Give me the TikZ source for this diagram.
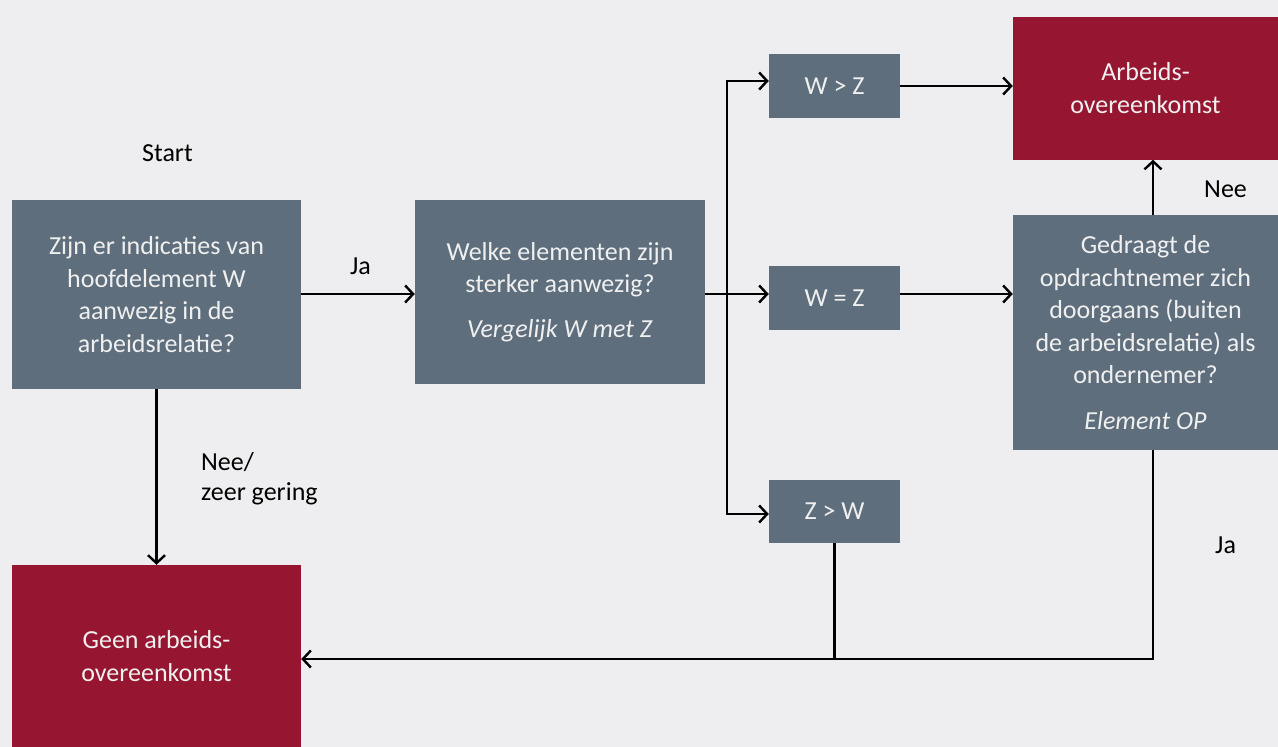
\documentclass[tikz,border=0pt]{standalone}
\usepackage{fontspec}
\setmainfont{Carlito}
\usetikzlibrary{arrows.meta}
\definecolor{bgc}{HTML}{EEEEF0}
\definecolor{slate}{HTML}{5E6E7C}
\definecolor{wine}{HTML}{961631}
\definecolor{boxtext}{HTML}{F0F0F0}
\tikzset{
  base/.style={rectangle, inner sep=0pt, align=center, text=boxtext,
    font=\fontsize{26}{32.5}\selectfont},
  grey/.style={base, fill=slate},
  red/.style={base, fill=wine},
  lbl/.style={font=\fontsize{26}{30}\selectfont, text=black, inner sep=0pt, align=left},
  arr/.style={line width=2.4pt, -{Straight Barb[length=8pt,width=17pt,line width=2.4pt]}},
  ln/.style={line width=2.4pt},
}
\begin{document}
\begin{tikzpicture}[x=1pt,y=-1pt]
\fill[bgc] (0,0) rectangle (1278,747);
\useasboundingbox (0,0) rectangle (1278,747);

% question boxes
\node[grey, minimum width=289pt, minimum height=189pt] (q1) at (156.5,294.5)
  {Zijn er indicaties van\\hoofdelement W\\aanwezig in de\\arbeidsrelatie?};
\node[grey, minimum width=290pt, minimum height=184pt] (q2) at (560,292)
  {Welke elementen zijn\\sterker aanwezig?\\[12pt]\textit{Vergelijk W met Z}};
\node[grey, minimum width=131pt, minimum height=64pt] (wgz) at (834.5,86) {W > Z};
\node[grey, minimum width=131pt, minimum height=64pt] (weqz) at (834.5,298) {W = Z};
\node[grey, minimum width=131pt, minimum height=63pt] (zgw) at (834.5,511.5) {Z > W};
\node[grey, minimum width=265pt, minimum height=235pt] (ged) at (1145.5,332.5)
  {Gedraagt de\\opdrachtnemer zich\\doorgaans (buiten\\de arbeidsrelatie) als\\ondernemer?\\[13pt]\textit{Element OP}};

% outcome boxes
\node[red, minimum width=265pt, minimum height=143pt] (arb) at (1145.5,88)
  {Arbeids-\\overeenkomst};
\node[red, minimum width=289pt, minimum height=182pt] (geen) at (156.5,656)
  {Geen arbeids-\\overeenkomst};

% labels
\node[lbl, anchor=base west] (start) at (142,161) {Start};
\node[lbl, anchor=base west] (ja1) at (350,274) {Ja};
\node[lbl, anchor=north west] (nee1) at (201,452) {Nee/\\zeer gering};
\node[lbl, anchor=base west] (nee2) at (1204,197) {Nee};
\node[lbl, anchor=base west] (ja2) at (1215,553) {Ja};

% routing points
\coordinate (split) at (727,294);
\coordinate (upx) at (1153,0);
\coordinate (corner) at (1153,659);

% connectors
\draw[arr] (q1.east |- split) -- (q2.west |- split);
\draw[ln] (q2.east |- split) -- (split);
\draw[arr] (split) |- ([yshift=5pt]wgz.west);
\draw[arr] (split) -- (split -| weqz.west);
\draw[arr] (split) |- ([yshift=-2.5pt]zgw.west);
\draw[arr] (wgz.east) -- (wgz.east -| arb.west);
\draw[arr] (split -| weqz.east) -- (split -| ged.west);
\draw[arr] (ged.north -| upx) -- (arb.south -| upx);
\draw[arr] (ged.south -| corner) -- (corner) -- (corner -| geen.east);
\draw[ln] (zgw.south) -- (zgw.south |- corner);
\draw[arr] (q1.south) -- (geen.north);
\end{tikzpicture}
\end{document}
